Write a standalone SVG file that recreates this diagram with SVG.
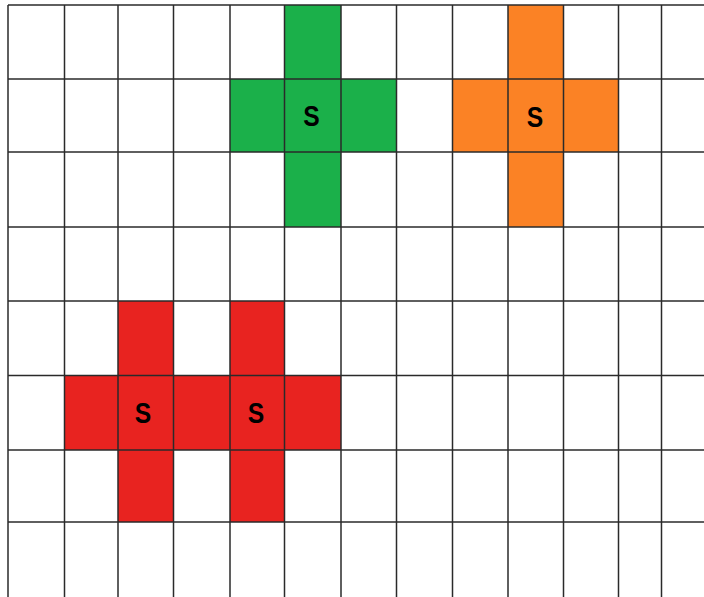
<svg xmlns="http://www.w3.org/2000/svg" width="704" height="597" viewBox="0 0 704 597">
<style>
.g{fill:#1bb04a}
.o{fill:#fb8225}
.r{fill:#e82320}
.grid line{stroke:#2a2a2a;stroke-width:1.5}
.s{font-family:"Liberation Sans",Arial,sans-serif;font-size:29px;font-weight:bold;fill:#000;text-anchor:middle}
</style>
<rect width="704" height="597" fill="#fff"/>
<g id="green-cross" class="g">
<rect x="284.5" y="5" width="56.5" height="222"/>
<rect x="230" y="79" width="166.5" height="73"/>
</g>
<g id="orange-cross" class="o">
<rect x="508" y="5" width="55.5" height="222"/>
<rect x="452.5" y="79" width="166" height="73"/>
</g>
<g id="red-shape" class="r">
<rect x="118" y="301" width="55.5" height="221"/>
<rect x="230" y="301" width="54.5" height="221"/>
<rect x="64.5" y="375.5" width="276.5" height="74.5"/>
</g>
<g class="grid" id="grid">
<line x1="8" y1="5" x2="8" y2="597"/>
<line x1="64.5" y1="5" x2="64.5" y2="597"/>
<line x1="118" y1="5" x2="118" y2="597"/>
<line x1="173.5" y1="5" x2="173.5" y2="597"/>
<line x1="230" y1="5" x2="230" y2="597"/>
<line x1="284.5" y1="5" x2="284.5" y2="597"/>
<line x1="341" y1="5" x2="341" y2="597"/>
<line x1="396.5" y1="5" x2="396.5" y2="597"/>
<line x1="452.5" y1="5" x2="452.5" y2="597"/>
<line x1="508" y1="5" x2="508" y2="597"/>
<line x1="563.5" y1="5" x2="563.5" y2="597"/>
<line x1="618.5" y1="5" x2="618.5" y2="597"/>
<line x1="661.5" y1="5" x2="661.5" y2="597"/>
<line x1="8" y1="5" x2="704" y2="5"/>
<line x1="8" y1="79" x2="704" y2="79"/>
<line x1="8" y1="152" x2="704" y2="152"/>
<line x1="8" y1="227" x2="704" y2="227"/>
<line x1="8" y1="301" x2="704" y2="301"/>
<line x1="8" y1="375.5" x2="704" y2="375.5"/>
<line x1="8" y1="450" x2="704" y2="450"/>
<line x1="8" y1="522" x2="704" y2="522"/>
</g>
<g id="labels">
<text class="s" transform="translate(311.5 126) scale(0.85 1)">S</text>
<text class="s" transform="translate(535 127) scale(0.85 1)">S</text>
<text class="s" transform="translate(143 423) scale(0.85 1)">S</text>
<text class="s" transform="translate(256 423) scale(0.85 1)">S</text>
</g>
</svg>
